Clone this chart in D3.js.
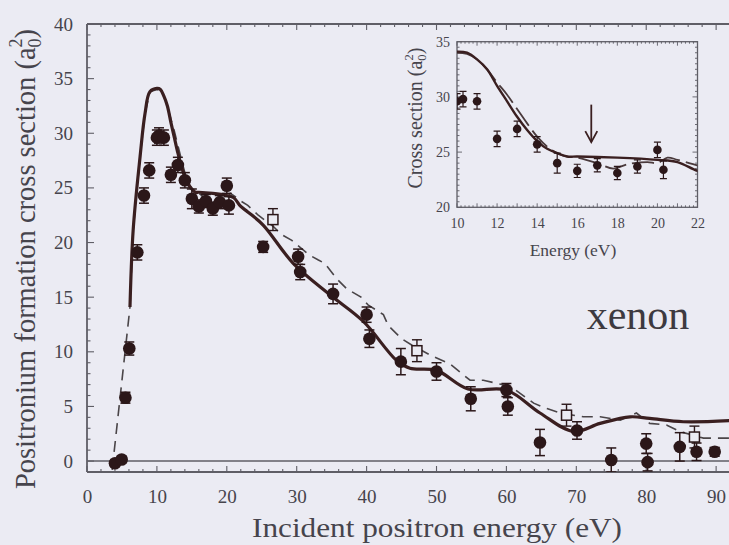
<!DOCTYPE html>
<html>
<head>
<meta charset="utf-8">
<script src="https://cdn.jsdelivr.net/npm/d3@7"></script>
<style>
  html, body { margin: 0; padding: 0; background: #ebebf3; }
  svg { display: block; }
  text { font-family: "Liberation Serif", "Times New Roman", serif; }
</style>
</head>
<body>
<svg id="chart" width="729" height="545"></svg>
<script>
// Measured positronium formation cross section (filled circles): energy (eV), value (a0^2), error
const dataEnergy = [4.0, 4.96, 5.5, 6.05, 7.2, 8.15, 8.9, 10.0, 10.3, 11.0, 12.0, 13.0, 14.0, 15.0, 16.0, 17.0, 18.0, 19.0, 20.0, 20.3,
  25.2, 30.2, 30.5, 35.2, 40.0, 40.4, 44.9, 50.0, 54.9, 60.0, 60.2, 64.8, 70.1, 75.0, 80.0, 80.2, 84.8, 87.2, 89.8];
const dataValue = [-0.2, 0.15, 5.8, 10.3, 19.1, 24.3, 26.6, 29.6, 29.8, 29.6, 26.2, 27.1, 25.7, 24.0, 23.3, 23.8, 23.1, 23.7, 25.2, 23.4,
  19.6, 18.7, 17.3, 15.3, 13.4, 11.2, 9.1, 8.2, 5.7, 6.5, 5.0, 1.7, 2.8, 0.1, 1.6, -0.1, 1.3, 0.85, 0.85];
const dataError = [0.3, 0.3, 0.5, 0.6, 0.7, 0.7, 0.7, 0.7, 0.7, 0.7, 0.7, 0.7, 0.7, 0.9, 0.6, 0.6, 0.6, 0.6, 0.7, 0.8,
  0.5, 0.7, 0.7, 0.9, 0.7, 0.8, 1.2, 0.8, 1.1, 0.6, 0.8, 1.2, 0.8, 1.1, 0.9, 0.8, 1.3, 0.8, 0.4];

// Second measurement set (open squares)
const squareEnergy = [26.6, 47.2, 68.6, 86.9];
const squareValue = [22.1, 10.1, 4.2, 2.2];
const squareError = [1.0, 1.0, 1.0, 1.0];

// Theory, solid curve
const solidEnergy = [6.15, 6.6, 7.6, 8.3, 9.0, 10.0, 10.5, 11.0, 11.5, 12.0, 12.5, 13.0, 13.5, 14.0, 14.5, 15.0, 15.5, 16.0, 18.0, 20.0, 21.0,
  22.0, 23.0, 25.2, 29.5, 34.8, 39.5, 44.3, 46.2, 50.0, 54.5, 60.0, 64.8, 69.6, 73.4, 77.7, 80.5, 85.3, 92.0];
const solidValue = [14.1, 21.1, 27.9, 31.8, 33.8, 34.1, 34.0, 33.4, 32.5, 31.0, 29.6, 28.2, 27.0, 26.0, 25.3, 24.9, 24.6, 24.6, 24.5, 24.3, 24.1,
  23.3, 22.8, 21.6, 18.1, 15.2, 12.8, 9.2, 8.5, 8.3, 6.6, 6.5, 4.4, 2.7, 3.45, 4.05, 3.9, 3.6, 3.7];

// Theory, dashed curve
const dashedEnergy = [3.6, 6.15, 6.6, 7.6, 8.3, 9.0, 10.0, 10.5, 11.0, 11.5, 12.0, 12.5, 13.0, 13.5, 14.0, 14.5, 15.0, 15.5, 16.0, 17.0, 17.8,
  18.5, 19.5, 20.0, 20.5, 21.0, 22.0, 23.0, 24.5, 26.6, 27.9, 29.3, 31.7, 33.1, 34.0, 35.7, 37.1, 39.2, 40.2, 42.4, 43.1, 45.0, 46.5, 49.1,
  51.9, 54.8, 56.7, 59.4, 61.0, 63.9, 65.8, 67.7, 71.0, 73.4, 76.3, 78.6, 80.5, 82.9, 84.8, 88.2, 92.0];
const dashedValue = [-0.8, 14.1, 21.1, 27.9, 31.8, 33.8, 34.0, 33.9, 33.4, 32.5, 31.3, 30.2, 28.9, 27.6, 26.4, 25.5, 24.9, 24.6, 24.5, 24.0, 23.5,
  23.9, 24.1, 24.0, 24.5, 24.3, 23.8, 23.4, 22.5, 21.5, 20.7, 20.2, 18.9, 18.4, 18.1, 16.7, 15.8, 15.0, 14.3, 13.4, 12.4, 11.2, 10.6, 9.7,
  8.9, 7.4, 7.4, 7.0, 6.65, 5.3, 4.8, 4.4, 4.05, 4.05, 3.75, 4.4, 3.45, 3.3, 2.7, 2.1, 2.1];

// Axis ticks
const xTicksMain = [0, 10, 20, 30, 40, 50, 60, 70, 80, 90];
const yTicksMain = [0, 5, 10, 15, 20, 25, 30, 35, 40];
const xTicksInset = [10, 12, 14, 16, 18, 20, 22];
const yTicksInset = [20, 25, 30, 35];

// Arrow in the inset: energy, top and bottom values
const arrowEnergy = 16.7;
const arrowFrom = 29.3;
const arrowTo = 25.9;

const BG = "#ebebf3";
const AXIS = "#5f5e66";
const TEXT = "#46444c";
const INK = "#2b1719";
const LINE = "#3a1f20";

const svg = d3.select("#chart");
svg.append("rect").attr("width", 729).attr("height", 545).attr("fill", BG);

const zip = (xs, ys) => xs.map((v, i) => [v, ys[i]]);

// ---------- main panel ----------
const x = d3.scaleLinear().domain([0, 92]).range([87, 730.1]);
const y = d3.scaleLinear().domain([-1, 40]).range([472, 24]);
const pLeft = x(0), pRight = x(92), pTop = y(40), pBottom = y(-1);

svg.append("clipPath").attr("id", "mainClip")
  .append("rect").attr("x", pLeft).attr("y", pTop).attr("width", pRight - pLeft).attr("height", pBottom - pTop);

const frame = svg.append("g").attr("stroke", AXIS).attr("fill", "none");
frame.append("line").attr("x1", pLeft).attr("x2", pRight).attr("y1", pTop).attr("y2", pTop).attr("stroke-width", 1.8);
frame.append("line").attr("x1", pLeft).attr("x2", pRight).attr("y1", pBottom).attr("y2", pBottom).attr("stroke-width", 1.8);
frame.append("line").attr("x1", pLeft).attr("x2", pLeft).attr("y1", pTop).attr("y2", pBottom).attr("stroke-width", 1.8);
frame.append("line").attr("x1", pLeft).attr("x2", pRight).attr("y1", y(0)).attr("y2", y(0)).attr("stroke-width", 1.4);

// tick marks, all pointing inward
d3.range(0, 92.01, 2).forEach(v => {
  const len = v % 10 === 0 ? 6 : 3;
  frame.append("line").attr("x1", x(v)).attr("x2", x(v)).attr("y1", pBottom).attr("y2", pBottom - len).attr("stroke-width", 1.1);
  frame.append("line").attr("x1", x(v)).attr("x2", x(v)).attr("y1", pTop).attr("y2", pTop + len).attr("stroke-width", 1.1);
});
d3.range(-1, 40.01, 1).forEach(v => {
  const len = v % 5 === 0 ? 7 : 3.5;
  frame.append("line").attr("x1", pLeft).attr("x2", pLeft + len).attr("y1", y(v)).attr("y2", y(v)).attr("stroke-width", 1.1);
});

const gx = svg.append("g").attr("transform", `translate(0,${pBottom + 31})`)
  .call(d3.axisBottom(x).tickValues(xTicksMain).tickSize(0).tickPadding(0));
gx.select(".domain").remove();
gx.selectAll("text").attr("font-size", 19).attr("fill", TEXT).attr("dy", 0)
  .style("font-family", '"Liberation Serif", serif');

const gy = svg.append("g").attr("transform", `translate(${pLeft},0)`)
  .call(d3.axisLeft(y).tickValues(yTicksMain).tickSize(0).tickPadding(14));
gy.select(".domain").remove();
gy.selectAll("text").attr("font-size", 19).attr("fill", TEXT)
  .style("font-family", '"Liberation Serif", serif');

// axis titles
svg.append("text").attr("x", 437).attr("y", 537).attr("text-anchor", "middle")
  .attr("font-size", 27).attr("fill", TEXT)
  .attr("textLength", 370).attr("lengthAdjust", "spacingAndGlyphs")
  .text("Incident positron energy (eV)");

const yt = svg.append("text").attr("transform", "translate(35,259) rotate(-90)")
  .attr("text-anchor", "middle").attr("font-size", 28.5).attr("fill", TEXT);
yt.append("tspan").text("Positronium formation cross section (a");
yt.append("tspan").attr("font-size", 18).attr("dy", 6).text("0");
yt.append("tspan").attr("font-size", 18).attr("dx", -9).attr("dy", -19).text("2");
yt.append("tspan").attr("dy", 13).text(")");

svg.append("text").attr("x", 638).attr("y", 329).attr("text-anchor", "middle")
  .attr("font-size", 42).attr("fill", "#3d3a40").text("xenon");

// curves
const plotMain = svg.append("g").attr("clip-path", "url(#mainClip)");
const lineMainSolid = d3.line().x(d => x(d[0])).y(d => y(d[1])).curve(d3.curveCatmullRom.alpha(0.5));
const lineMainDashed = d3.line().x(d => x(d[0])).y(d => y(d[1])).curve(d3.curveLinear);

plotMain.append("path").datum(zip(dashedEnergy, dashedValue)).attr("d", lineMainDashed)
  .attr("fill", "none").attr("stroke", "#4a4548").attr("stroke-width", 1.6).attr("stroke-dasharray", "11,7");
plotMain.append("path").datum(zip(solidEnergy, solidValue)).attr("d", lineMainSolid)
  .attr("fill", "none").attr("stroke", LINE).attr("stroke-width", 3.2).attr("stroke-linejoin", "round");

// error bars helper
function errorBars(g, xs, ys, es, sx, sy, cap, w) {
  const eg = g.append("g").attr("stroke", INK).attr("stroke-width", w).attr("fill", "none");
  xs.forEach((xv, i) => {
    const cx = sx(xv), lo = sy(ys[i] - es[i]), hi = sy(ys[i] + es[i]);
    eg.append("line").attr("x1", cx).attr("x2", cx).attr("y1", lo).attr("y2", hi);
    eg.append("line").attr("x1", cx - cap).attr("x2", cx + cap).attr("y1", lo).attr("y2", lo);
    eg.append("line").attr("x1", cx - cap).attr("x2", cx + cap).attr("y1", hi).attr("y2", hi);
  });
}

errorBars(plotMain, squareEnergy, squareValue, squareError, x, y, 5, 1.4);
plotMain.append("g").selectAll("rect").data(zip(squareEnergy, squareValue)).join("rect")
  .attr("x", d => x(d[0]) - 5).attr("y", d => y(d[1]) - 5).attr("width", 10).attr("height", 10)
  .attr("fill", BG).attr("stroke", INK).attr("stroke-width", 1.5);

errorBars(plotMain, dataEnergy, dataValue, dataError, x, y, 5, 1.5);
plotMain.append("g").selectAll("circle").data(zip(dataEnergy, dataValue)).join("circle")
  .attr("cx", d => x(d[0])).attr("cy", d => y(d[1])).attr("r", 6.3).attr("fill", INK);

// ---------- inset ----------
const xi = d3.scaleLinear().domain([10, 22]).range([457, 697.5]);
const yi = d3.scaleLinear().domain([20, 35]).range([207.3, 41.7]);
const il = xi(10), ir = xi(22), itop = yi(35), ib = yi(20);

const inset = svg.append("g");
inset.append("rect").attr("x", il).attr("y", itop).attr("width", ir - il).attr("height", ib - itop)
  .attr("fill", BG).attr("stroke", AXIS).attr("stroke-width", 1.3);
svg.append("clipPath").attr("id", "insetClip")
  .append("rect").attr("x", il).attr("y", itop).attr("width", ir - il).attr("height", ib - itop);

const itg = inset.append("g").attr("stroke", AXIS).attr("stroke-width", 0.9);
d3.range(10, 22.001, 0.2).forEach(v => {
  const r = Math.round(v * 10) / 10;
  const len = Number.isInteger(r) ? 4 : 2;
  itg.append("line").attr("x1", xi(r)).attr("x2", xi(r)).attr("y1", ib).attr("y2", ib - len);
  itg.append("line").attr("x1", xi(r)).attr("x2", xi(r)).attr("y1", itop).attr("y2", itop + len);
});
d3.range(20, 35.001, 0.5).forEach(v => {
  const len = v % 5 === 0 ? 5 : 2.5;
  itg.append("line").attr("x1", il).attr("x2", il + len).attr("y1", yi(v)).attr("y2", yi(v));
  itg.append("line").attr("x1", ir).attr("x2", ir - len).attr("y1", yi(v)).attr("y2", yi(v));
});

const gxi = inset.append("g").attr("transform", `translate(0,${ib + 21})`)
  .call(d3.axisBottom(xi).tickValues(xTicksInset).tickSize(0).tickPadding(0));
gxi.select(".domain").remove();
gxi.selectAll("text").attr("font-size", 14).attr("fill", TEXT).attr("dy", 0)
  .style("font-family", '"Liberation Serif", serif');
const gyi = inset.append("g").attr("transform", `translate(${il},0)`)
  .call(d3.axisLeft(yi).tickValues(yTicksInset).tickSize(0).tickPadding(7));
gyi.select(".domain").remove();
gyi.selectAll("text").attr("font-size", 14).attr("fill", TEXT)
  .style("font-family", '"Liberation Serif", serif');

inset.append("text").attr("x", 573).attr("y", 256).attr("text-anchor", "middle")
  .attr("font-size", 17.5).attr("fill", TEXT).text("Energy (eV)");
const yti = inset.append("text").attr("transform", "translate(422,118) rotate(-90)")
  .attr("text-anchor", "middle").attr("font-size", 20).attr("fill", TEXT);
yti.append("tspan").text("Cross section (a");
yti.append("tspan").attr("font-size", 12.5).attr("dy", 4).text("0");
yti.append("tspan").attr("font-size", 12.5).attr("dx", -6).attr("dy", -13).text("2");
yti.append("tspan").attr("dy", 9).text(")");

const plotInset = inset.append("g").attr("clip-path", "url(#insetClip)");
const lineIn = d3.line().x(d => xi(d[0])).y(d => yi(d[1])).curve(d3.curveCatmullRom.alpha(0.5));
plotInset.append("path").datum(zip(dashedEnergy, dashedValue)).attr("d", lineIn)
  .attr("fill", "none").attr("stroke", "#4a3a3c").attr("stroke-width", 1.8).attr("stroke-dasharray", "22,6");
plotInset.append("path").datum(zip(solidEnergy, solidValue)).attr("d", lineIn)
  .attr("fill", "none").attr("stroke", LINE).attr("stroke-width", 2.4);

const inIdx = dataEnergy.map((e, i) => i).filter(i => dataEnergy[i] >= 10 && dataEnergy[i] <= 22);
const inE = inIdx.map(i => dataEnergy[i]);
const inV = inIdx.map(i => dataValue[i]);
const inErr = inIdx.map(i => dataError[i]);
errorBars(plotInset, inE, inV, inErr, xi, yi, 3.5, 1.2);
plotInset.append("g").selectAll("circle").data(zip(inE, inV)).join("circle")
  .attr("cx", d => xi(d[0])).attr("cy", d => yi(d[1])).attr("r", 4.3).attr("fill", INK);

// arrow marking the threshold
const ax = xi(arrowEnergy), a1 = yi(arrowFrom), a2 = yi(arrowTo);
inset.append("line").attr("x1", ax).attr("x2", ax).attr("y1", a1).attr("y2", a2)
  .attr("stroke", LINE).attr("stroke-width", 1.8);
inset.append("path").attr("d", `M${ax - 6},${a2 - 11} L${ax},${a2} L${ax + 6},${a2 - 11}`)
  .attr("fill", "none").attr("stroke", LINE).attr("stroke-width", 1.8);
</script>
</body>
</html>
